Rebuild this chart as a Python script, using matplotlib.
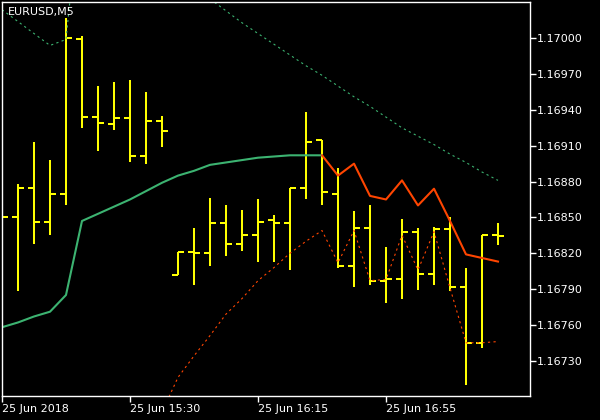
import numpy as np
import matplotlib
matplotlib.use('Agg')
import matplotlib.pyplot as plt

# EURUSD M5 bars
opens  = [1.16848, 1.16850, 1.16875, 1.16846, 1.16870, 1.16999, 1.16934, 1.16928,
          1.16933, 1.16901, 1.16931, 1.16802, 1.16821, 1.16820, 1.16845, 1.16828,
          1.16835, 1.16848, 1.16845, 1.16875, 1.16915, 1.16870, 1.16809, 1.16841,
          1.16797, 1.16798, 1.16838, 1.16803, 1.16840, 1.16792, 1.16745, 1.16835]
highs  = [1.16855, 1.16878, 1.16913, 1.16898, 1.17017, 1.17002, 1.16960, 1.16963,
          1.16965, 1.16955, 1.16935, 1.16821, 1.16841, 1.16866, 1.16860, 1.16856,
          1.16865, 1.16852, 1.16875, 1.16938, 1.16915, 1.16891, 1.16855, 1.16860,
          1.16825, 1.16849, 1.16841, 1.16842, 1.16850, 1.16808, 1.16835, 1.16845]
lows   = [1.16845, 1.16788, 1.16828, 1.16835, 1.16860, 1.16925, 1.16906, 1.16923,
          1.16896, 1.16895, 1.16909, 1.16802, 1.16793, 1.16809, 1.16818, 1.16822,
          1.16813, 1.16813, 1.16806, 1.16865, 1.16860, 1.16808, 1.16792, 1.16793,
          1.16778, 1.16782, 1.16789, 1.16793, 1.16788, 1.16710, 1.16741, 1.16827]
closes = [1.16850, 1.16875, 1.16846, 1.16870, 1.17000, 1.16934, 1.16929, 1.16933,
          1.16901, 1.16931, 1.16922, 1.16821, 1.16820, 1.16845, 1.16828, 1.16835,
          1.16846, 1.16845, 1.16875, 1.16913, 1.16871, 1.16809, 1.16841, 1.16797,
          1.16798, 1.16838, 1.16803, 1.16840, 1.16792, 1.16745, 1.16835, 1.16834]

# moving average: green part up to turn_bar, red after
ma_line = [1.16758, 1.16762, 1.16767, 1.16771, 1.16785, 1.16847, 1.16853, 1.16859,
           1.16865, 1.16872, 1.16879, 1.16885, 1.16889, 1.16894, 1.16896, 1.16898,
           1.16900, 1.16901, 1.16902, 1.16902, 1.16902, 1.16885, 1.16895, 1.16868,
           1.16865, 1.16881, 1.16860, 1.16874, 1.16847, 1.16819, 1.16816, 1.16813]
turn_bar = 20

upper_band = [1.17024, 1.17014, 1.17004, 1.16994, 1.16999, 1.17130, 1.17120, 1.17105,
              1.17095, 1.17080, 1.17070, 1.17060, 1.17041, 1.17033, 1.17023, 1.17013,
              1.17004, 1.16995, 1.16986, 1.16977, 1.16969, 1.16960, 1.16951, 1.16943,
              1.16934, 1.16925, 1.16918, 1.16911, 1.16903, 1.16896, 1.16888, 1.16881]
lower_start = 10
lower_band = [1.16687, 1.16716, 1.16734, 1.16751, 1.16769, 1.16782, 1.16797, 1.16808,
              1.16820, 1.16830, 1.16839, 1.16812, 1.16839, 1.16797, 1.16798, 1.16835,
              1.16806, 1.16838, 1.16791, 1.16745, 1.16745, 1.16746]

label_bars = [0, 8, 16, 24]
time_labels = ['25 Jun 2018', '25 Jun 15:30', '25 Jun 16:15', '25 Jun 16:55']

yellow = '#FFFF00'
green = '#3CB371'
red = '#FF4500'

fig = plt.figure(figsize=(6, 4.2), dpi=100, facecolor='black')
ax = fig.add_axes([2/600, 24/420, 528/600, 394/420])
ax.set_facecolor('black')

x = np.arange(len(opens))
lw = 1.45
ax.vlines(x, lows, highs, color=yellow, linewidth=lw)
ax.hlines(opens, x - 0.36, x, color=yellow, linewidth=lw)
ax.hlines(closes, x, x + 0.36, color=yellow, linewidth=lw)

ax.plot(x[:turn_bar + 1], ma_line[:turn_bar + 1], color=green, linewidth=1.5)
ax.plot(x[turn_bar:], ma_line[turn_bar:], color=red, linewidth=1.5)

ax.plot(x, upper_band, color=green, linewidth=0.8, linestyle=(0, (2, 3)))
xl = np.arange(lower_start, lower_start + len(lower_band))
ax.plot(xl, lower_band, color=red, linewidth=0.8, linestyle=(0, (2, 3)))

ax.set_xlim(0, 33)
ax.set_ylim(1.167004, 1.170304)

for s in ax.spines.values():
    s.set_color('white')
    s.set_linewidth(1)

ax.yaxis.tick_right()
yt = np.arange(1.16730, 1.170001, 0.0003)
ax.set_yticks(yt)
ax.set_yticklabels(['%.5f' % v for v in yt])
ax.set_xticks(label_bars)
ax.set_xticklabels(time_labels, ha='left')
ax.tick_params(colors='white', labelcolor='white', labelsize=8, length=4, width=1, direction='out')
ax.tick_params(axis='y', pad=1)
ax.tick_params(axis='x', pad=2)

fig.text(8/600, 1 - 12/420, 'EURUSD,M5', color='white', fontsize=8, va='center', ha='left')

fig.savefig('out.png', dpi=100, facecolor='black')
